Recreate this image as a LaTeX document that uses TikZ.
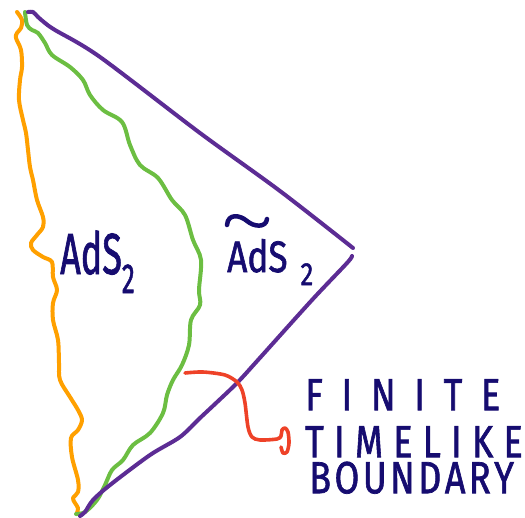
\documentclass[tikz,border=0pt]{standalone}
\usepackage{fontspec}
\setmainfont{Fira Sans}[FakeBold=1.6]
\usepackage{graphicx}
\definecolor{penorange}{RGB}{255,160,0}
\definecolor{pengreen}{RGB}{108,190,66}
\definecolor{penpurple}{RGB}{92,44,148}
\definecolor{penred}{RGB}{238,66,40}
\definecolor{pennavy}{RGB}{22,12,112}
\newcommand\spreadtext[2]{\scalebox{0.8}[1]{\makebox[#1][s]{#2}}}
\begin{document}
\begin{tikzpicture}[x=1pt,y=-1pt,
  stroke/.style={line width=4pt, line cap=round, line join=round},
  orangeline/.style={stroke, draw=penorange},
  greenline/.style={stroke, draw=pengreen},
  purpleline/.style={stroke, draw=penpurple},
  redline/.style={stroke, draw=penred, line width=3.6pt},
  navyline/.style={stroke, draw=pennavy, line width=4.5pt},
  hand/.style={text=pennavy, inner sep=0pt, anchor=base west},
  label/.style={text=pennavy, inner sep=0pt, anchor=north west, align=left,
    font=\fontsize{45}{47}\selectfont}]
\useasboundingbox (0,0) rectangle (525,517);

% orange wiggly boundary
\draw[orangeline] plot[smooth, tension=0.55] coordinates {
  (17,12) (22,20) (21,28) (17,33) (16,38) (21,50) (22,67) (20,80) (19,100)
  (23,120) (26,133) (28,150) (30,167) (33,180) (37,200) (43,217) (43,227)
  (37,235) (31,243) (33,250) (43,257) (52,262) (53,277) (57,290) (53,303)
  (53,320) (58,340) (59,363) (60,380) (70,397) (78,410) (82,420) (78,430)
  (71,438) (72,457) (78,480) (78,492) (73,498) (75,503) (78,508) (77,513)};

% green wiggly boundary
\draw[greenline] plot[smooth, tension=0.55] coordinates {
  (25,12) (27,25) (32,30) (38,33) (45,43) (52,55) (70,67) (83,80) (90,95)
  (103,110) (122,122) (130,145) (140,165) (158,178) (172,200) (185,215)
  (193,240) (201,260) (199,290) (200,305) (191,320) (189,345) (182,365)
  (173,380) (167,395) (163,413) (150,433) (133,445) (123,460) (112,470)
  (105,485) (97,500) (85,512) (76,514)};

% purple light-cone edges
\draw[purpleline] plot[smooth, tension=0.5] coordinates {
  (28,12) (33,12) (38,17) (45,23) (55,30) (100,57) (200,133) (280,191) (353,248)};
\draw[purpleline] plot[smooth, tension=0.5] coordinates {
  (352,256) (347,263) (312,300) (258,360) (237,383) (215,404) (200,418)
  (180,437) (150,455) (110,485) (93,500) (85,512) (80,516)};

% labels
\node[hand, font=\fontsize{58}{58}\selectfont] (ads) at (60,274)
  {\scalebox{0.62}[1]{AdS}\scalebox{0.62}[1]{\raisebox{-19pt}{\fontsize{42}{42}\selectfont 2}}};
\node[hand, font=\fontsize{44}{44}\selectfont] (tads) at (227,272)
  {\scalebox{0.8}[1]{AdS}\hspace{13pt}\scalebox{0.8}[1]{\raisebox{-13pt}{\fontsize{32}{32}\selectfont 2}}};
\draw[navyline] (227,225) .. controls (228,213) and (240,215) .. (247,221)
  .. controls (254,227) and (266,228) .. (267,219);

\node[label] (note) at (305,379) {%
  \spreadtext{244pt}{F\hfil I\hfil N\hfil I\hfil T\hfil E}\\
  \spreadtext{272pt}{T\hfil I\hfil M\hfil E\hfil L\hfil I\hfil K\hfil E}\\[-11pt]
  \hspace{4pt}\spreadtext{256pt}{B\hfil O\hfil U\hfil N\hfil D\hfil A\hfil R\hfil Y}};

% red pointer
\coordinate (pstart) at (185,373);
\draw[redline] plot[smooth, tension=0.5] coordinates {
  (pstart) (203,372) (225,375) (237,382) (242,390) (245,403) (248,427)
  (252,437) (260,440) (277,439) (281,436) (282,430) (285,428) (288,432)
  (289,443) (287,452) (283,453) (281,447)};
\end{tikzpicture}
\end{document}
